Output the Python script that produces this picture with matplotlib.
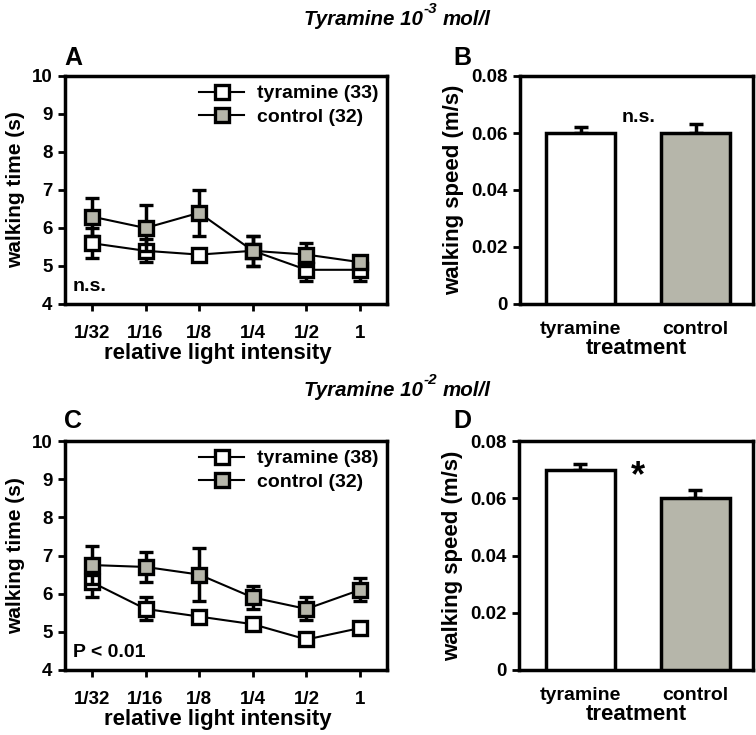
import numpy as np
import matplotlib.pyplot as plt
from matplotlib.lines import Line2D

plt.rcParams['font.family'] = ['Liberation Sans', 'DejaVu Sans']
plt.rcParams['font.weight'] = 'bold'

# ------------------------
# DATA
# ------------------------

intensity_labels = ["1/32", "1/16", "1/8", "1/4", "1/2", "1"]

# panel A (tyramine 10^-3)
a_tyr = [5.6, 5.4, 5.3, 5.4, 4.9, 4.9]
a_tyr_err = [0.4, 0.3, 0.1, 0.4, 0.3, 0.3]
a_ctl = [6.3, 6.0, 6.4, 5.4, 5.3, 5.1]
a_ctl_err = [0.5, 0.6, 0.6, 0.4, 0.3, 0.1]

# panel C (tyramine 10^-2)
c_tyr = [6.3, 5.6, 5.4, 5.2, 4.8, 5.1]
c_tyr_err = [0.4, 0.3, 0.1, 0.1, 0.1, 0.1]
c_ctl = [6.75, 6.7, 6.5, 5.9, 5.6, 6.1]
c_ctl_err = [0.5, 0.4, 0.7, 0.3, 0.3, 0.3]

treatments = ["tyramine", "control"]
b_speed = [0.060, 0.060]
b_err = [0.002, 0.003]
d_speed = [0.070, 0.060]
d_err = [0.002, 0.003]

legend_a = ["tyramine (33)", "control (32)"]
legend_c = ["tyramine (38)", "control (32)"]

GRAY = "#b6b6aa"
FS = 13.5

# ------------------------
# FIGURE
# ------------------------

fig = plt.figure(figsize=(7.56, 7.35), dpi=100)
W, H = 756, 735


def box(l, t, r, b):
    return [l / W, 1 - b / H, (r - l) / W, (b - t) / H]


def style(ax):
    for s in ax.spines.values():
        s.set_linewidth(2.5)
    ax.tick_params(width=2, length=5, labelsize=FS, top=False, right=False)
    ax.tick_params(axis='y', pad=4)
    for lab in ax.get_xticklabels() + ax.get_yticklabels():
        lab.set_fontweight('bold')


def line_panel(ax, tyr, tyr_err, ctl, ctl_err, labels, note):
    x = np.arange(len(intensity_labels))
    kw = dict(fmt='-s', color='black', ms=10.5, mew=2.4, lw=1.5,
              elinewidth=2.5, capsize=5, capthick=2.5, mec='black')
    ax.errorbar(x, tyr, yerr=tyr_err, mfc='white', zorder=3, **kw)
    ax.errorbar(x, ctl, yerr=ctl_err, mfc=GRAY, zorder=4, **kw)
    ax.set_xlim(-0.5, 5.5)
    ax.set_ylim(4, 10)
    ax.set_xticks(x)
    ax.set_xticklabels(intensity_labels)
    ax.set_yticks(range(4, 11))
    ax.set_xlabel("relative light intensity", fontsize=16, fontweight='bold')
    ax.xaxis.set_label_coords(0.475, -0.17)
    ax.set_ylabel("walking time (s)", fontsize=15, fontweight='bold',
                  labelpad=5)
    handles = [Line2D([], [], color='black', lw=1.5, marker='s', ms=10.5,
                      mew=2.4, mec='black', mfc=c) for c in ('white', GRAY)]
    ax.legend(handles, labels, loc='upper right', frameon=False,
              handlelength=2.3, handletextpad=0.65,
              borderaxespad=0.05, labelspacing=0.3,
              prop={'weight': 'bold', 'size': 14})
    ax.text(0.025, 0.04, note, transform=ax.transAxes, fontsize=14,
            fontweight='bold', ha='left', va='bottom')
    style(ax)
    ax.tick_params(axis='x', pad=10)


def bar_panel(ax, vals, errs, mark, mark_y, mark_size):
    x = np.arange(len(treatments))
    ax.bar(x, vals, width=0.6, color=['white', GRAY], edgecolor='black',
           linewidth=2.5, zorder=3)
    ax.errorbar(x, vals, yerr=[[0, 0], errs], fmt='none', ecolor='black',
                elinewidth=2.5, capsize=5, capthick=2.5, zorder=2)
    ax.set_xlim(-0.53, 1.5)
    ax.set_ylim(0, 0.08)
    ax.set_yticks([0, 0.02, 0.04, 0.06, 0.08])
    ax.set_yticklabels(["0", "0.02", "0.04", "0.06", "0.08"])
    ax.set_xticks(x)
    ax.set_xticklabels(treatments)
    ax.set_xlabel("treatment", fontsize=16, fontweight='bold', labelpad=0)
    ax.set_ylabel("walking speed (m/s)", fontsize=16, fontweight='bold',
                  labelpad=5)
    ax.text(0.5, mark_y, mark, ha='center', va='center',
            fontsize=mark_size, fontweight='bold')
    style(ax)
    ax.tick_params(axis='x', length=0, labelsize=14, pad=12)


axA = fig.add_axes(box(65, 76, 387, 304))
line_panel(axA, a_tyr, a_tyr_err, a_ctl, a_ctl_err, legend_a, "n.s.")

axB = fig.add_axes(box(520, 76, 753, 304))
bar_panel(axB, b_speed, b_err, "n.s.", 0.0655, 14)

axC = fig.add_axes(box(65, 441, 387, 670))
line_panel(axC, c_tyr, c_tyr_err, c_ctl, c_ctl_err, legend_c, "P < 0.01")

axD = fig.add_axes(box(519, 441, 753, 670))
bar_panel(axD, d_speed, d_err, "*", 0.0675, 26)


# titles: "Tyramine 10" + superscript exponent + "mol/l"
def title(x_px, base_px, exponent):
    tf = dict(fontsize=14.8, fontweight='bold', fontstyle='italic')
    y = 1 - base_px / H
    t1 = fig.text(x_px / W, y, "Tyramine 10", ha='right', va='baseline', **tf)
    sup = plt.annotate(exponent, xy=(1, y + 12 / H),
                       xycoords=(t1, 'figure fraction'),
                       xytext=(0.5, 0), textcoords='offset points',
                       ha='left', va='baseline', fontsize=11,
                       fontweight='bold', fontstyle='italic')
    plt.annotate("mol/l", xy=(1, y), xycoords=(sup, 'figure fraction'),
                 xytext=(3.5, 0), textcoords='offset points',
                 ha='left', va='baseline', **tf)


title(423, 25, "-3")
title(423, 396, "-2")

for letter, px, py in [("A", 64, 58), ("B", 453, 58),
                       ("C", 64, 421), ("D", 453, 421)]:
    fig.text(px / W, 1 - py / H, letter, ha='left', va='center',
             fontsize=18, fontweight='bold')

fig.savefig("out.png", dpi=100)
